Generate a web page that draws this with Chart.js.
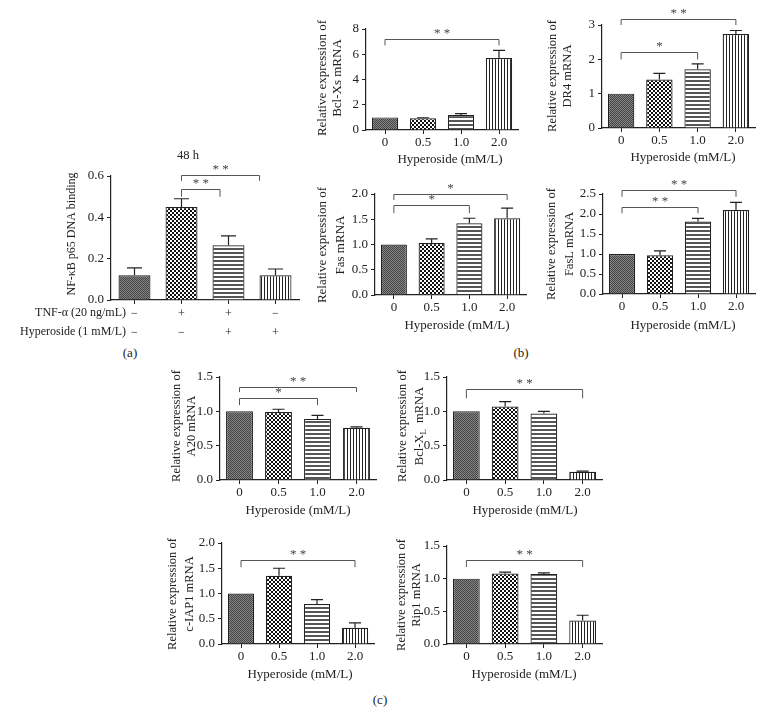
<!DOCTYPE html>
<html>
<head>
<meta charset="utf-8">
<script src="https://cdn.jsdelivr.net/npm/chart.js@4.4.0/dist/chart.umd.min.js"></script>
<style>
  body { margin: 0; background: #fff; width: 764px; height: 727px; position: relative; overflow: hidden; font-family: "Liberation Serif", "Times New Roman", serif; color: #222; }
  canvas { position: absolute; }
  .tag { position: absolute; font-size: 13px; color: #222; transform: translate(-50%, -50%); }
</style>
</head>
<body>
<div class="tag" style="left:130px;top:353px">(a)</div>
<div class="tag" style="left:521px;top:353px">(b)</div>
<div class="tag" style="left:380px;top:700px">(c)</div>
<script>
// categories
const doses = ["0", "0.5", "1.0", "2.0"];
const tnfRow = ["−", "+", "+", "−"];
const hypRow = ["−", "−", "+", "+"];

// (a) NF-kB p65 binding
const p65Mean = [0.12, 0.45, 0.265, 0.12];
const p65Sem = [0.035, 0.04, 0.045, 0.03];
const p65Sig = [[1, 1.82, 0.538, 0.5, "**"], [1, 2.66, 0.605, 0.577, "**"]];

// (b)
const bclxsMean = [1.0, 0.93, 1.18, 5.7];
const bclxsSem = [0, 0.04, 0.12, 0.6];
const bclxsSig = [[0, 3, 7.2, 6.7, "**"]];

const dr4Mean = [1.0, 1.41, 1.71, 2.74];
const dr4Sem = [0, 0.18, 0.16, 0.1];
const dr4Sig = [[0, 2, 2.22, 2.0, "*"], [0, 3, 3.18, 3.0, "**"]];

const fasMean = [1.0, 1.03, 1.42, 1.52];
const fasSem = [0, 0.08, 0.1, 0.2];
const fasSig = [[0, 2, 1.78, 1.62, "*"], [0, 3, 2.0, 1.88, "*"]];

const faslMean = [1.0, 0.97, 1.81, 2.1];
const faslSem = [0, 0.11, 0.08, 0.19];
const faslSig = [[0, 2, 2.18, 2.02, "**"], [0, 3, 2.6, 2.43, "**"]];

// (c)
const a20Mean = [1.0, 0.99, 0.89, 0.76];
const a20Sem = [0, 0.04, 0.05, 0.015];
const a20Sig = [[0, 2, 1.19, 1.09, "*"], [0, 3, 1.35, 1.28, "**"]];

const bclxlMean = [1.0, 1.07, 0.97, 0.12];
const bclxlSem = [0, 0.07, 0.03, 0.01];
const bclxlSig = [[0, 3, 1.32, 1.19, "**"]];

const ciap1Mean = [1.0, 1.35, 0.79, 0.32];
const ciap1Sem = [0, 0.15, 0.09, 0.1];
const ciap1Sig = [[0, 3, 1.66, 1.52, "**"]];

const rip1Mean = [1.0, 1.08, 1.07, 0.36];
const rip1Sem = [0, 0.02, 0.02, 0.08];
const rip1Sig = [[0, 3, 1.29, 1.18, "**"]];

const FONT = '"Liberation Serif", "Times New Roman", serif';
const INK = "#222";

// fill patterns for the 4 bars
function makePatterns(ctx) {
  const mk = (w, h, draw) => {
    const c = document.createElement("canvas");
    c.width = w; c.height = h;
    const g = c.getContext("2d");
    g.fillStyle = "#fff"; g.fillRect(0, 0, w, h);
    draw(g);
    return ctx.createPattern(c, "repeat");
  };
  return [
    mk(2, 2, g => { g.fillStyle = "#858585"; g.fillRect(0, 0, 2, 2); g.fillStyle = "#444"; g.fillRect(0, 0, 1, 1); g.fillRect(1, 1, 1, 1); }),
    mk(4, 4, g => { g.fillStyle = "#111"; g.fillRect(0, 0, 2, 2); g.fillRect(2, 2, 2, 2); }),
    mk(1, 4, g => { g.fillStyle = "#555"; g.fillRect(0, 0, 1, 2); }),
    mk(3, 1, g => { g.fillStyle = "#222"; g.fillRect(0, 0, 1, 1); })
  ];
}

function drawRich(ctx, segs, size) {
  // centred at 0,0 in current transform
  let total = 0;
  segs.forEach(s => {
    ctx.font = (s.sub ? size * 0.7 : size) + "px " + FONT;
    s.w = ctx.measureText(s.t).width;
    total += s.w;
  });
  let x = -total / 2;
  ctx.textAlign = "left";
  segs.forEach(s => {
    ctx.font = (s.sub ? size * 0.7 : size) + "px " + FONT;
    ctx.fillText(s.t, x, s.sub ? size * 0.3 : 0);
    x += s.w;
  });
}

const extras = {
  id: "extras",
  afterDraw(chart, args, o) {
    const { ctx, scales: { x, y } } = chart;
    const ox = o.ox, oy = o.oy;
    ctx.save();
    // error bars (upper only)
    const meta = chart.getDatasetMeta(0);
    ctx.strokeStyle = INK;
    ctx.lineWidth = 1.2;
    meta.data.forEach((bar, i) => {
      const e = o.errs[i];
      if (!e) return;
      const v = chart.data.datasets[0].data[i];
      const top = y.getPixelForValue(v + e);
      ctx.beginPath();
      ctx.moveTo(bar.x, bar.y);
      ctx.lineTo(bar.x, top);
      ctx.moveTo(bar.x - o.cap / 2, top);
      ctx.lineTo(bar.x + o.cap / 2, top);
      ctx.stroke();
    });
    // significance brackets
    ctx.strokeStyle = "#555";
    ctx.fillStyle = "#444";
    ctx.lineWidth = 1;
    ctx.textAlign = "center";
    ctx.textBaseline = "middle";
    o.sig.forEach(([a, b, yv, leg, txt]) => {
      const x1 = x.getPixelForValue(a), x2 = x.getPixelForValue(b);
      const yl = Math.round(y.getPixelForValue(yv)) + 0.5, yg = y.getPixelForValue(leg);
      ctx.beginPath();
      ctx.moveTo(x1, yg); ctx.lineTo(x1, yl); ctx.lineTo(x2, yl); ctx.lineTo(x2, yg);
      ctx.stroke();
      ctx.font = "13px " + FONT;
      ctx.fillText(txt.split("").join(" "), (x1 + x2) / 2, yl - 6);
    });
    // axis titles and extra text
    ctx.fillStyle = INK;
    (o.ytitle || []).forEach(l => {
      ctx.save();
      ctx.translate(l.x - ox, l.y - oy);
      ctx.rotate(-Math.PI / 2);
      ctx.textBaseline = "middle";
      drawRich(ctx, l.segs, l.size);
      ctx.restore();
    });
    (o.texts || []).forEach(t => {
      ctx.font = t.size + "px " + FONT;
      ctx.textAlign = t.align || "center";
      ctx.textBaseline = "middle";
      ctx.fillText(t.t, t.x - ox, t.y - oy);
    });
    ctx.restore();
  }
};

function panel(p) {
  const L = p.l - p.canvasLeft, T = Math.min(40, p.t), R = 6, B = p.B || 45;
  const w = p.r - p.l + L + R, h = p.b - p.t + T + B;
  const cv = document.createElement("canvas");
  cv.width = w; cv.height = h;
  cv.style.left = (p.l - L) + "px";
  cv.style.top = (p.t - T) + "px";
  document.body.appendChild(cv);
  const fills = makePatterns(cv.getContext("2d"));
  const tickFont = { family: FONT, size: p.tickSize || 13 };
  new Chart(cv, {
    type: "bar",
    data: {
      labels: p.labels,
      datasets: [{
        data: p.mean,
        backgroundColor: fills,
        borderColor: INK,
        borderWidth: 1.2,
        barPercentage: p.barPct || 0.69,
        categoryPercentage: 1
      }]
    },
    options: {
      responsive: false,
      animation: false,
      layout: { padding: { left: 0, top: T, right: R, bottom: 0 } },
      plugins: {
        legend: { display: false },
        tooltip: { enabled: false },
        extras: {
          ox: p.l - L, oy: p.t - T,
          errs: p.sem, sig: p.sig, cap: p.cap || 12,
          ytitle: p.ytitle, texts: p.texts
        }
      },
      scales: {
        x: {
          grid: { display: true, drawOnChartArea: false, drawTicks: true, tickLength: 4, color: INK, offset: false },
          border: { color: INK, width: 1.2 },
          ticks: { color: INK, font: p.xFont || tickFont, padding: p.xPad == null ? 1 : p.xPad, maxRotation: 0, autoSkip: false },
          afterFit: s => { s.height = B; }
        },
        y: {
          min: 0, max: p.yMax,
          grid: { display: true, drawOnChartArea: false, drawTicks: true, tickLength: 4, color: INK },
          border: { color: INK, width: 1.2 },
          ticks: { stepSize: p.step, color: INK, font: tickFont, padding: 3, callback: v => v.toFixed(p.dec) },
          afterFit: s => { s.width = L; }
        }
      }
    },
    plugins: [extras]
  });
}

function yt(x1, x2, cy, size, gene) {
  return [
    { x: x1, y: cy, size: size, segs: [{ t: "Relative expression of" }] },
    { x: x2, y: cy, size: size, segs: gene }
  ];
}
const hyper = (cx, cy) => ({ t: "Hyperoside (mM/L)", x: cx, y: cy, size: 13 });

// (a)
panel({
  l: 111, r: 299, t: 176, b: 300, canvasLeft: 0, B: 45,
  labels: tnfRow.map((t, i) => [t, hypRow[i]]),
  mean: p65Mean, sem: p65Sem, sig: p65Sig,
  yMax: 0.6, step: 0.2, dec: 1, barPct: 0.68, cap: 15,
  xFont: { family: FONT, size: 12, lineHeight: 19 / 12 }, xPad: 0,
  ytitle: [{ x: 72, y: 234, size: 12, segs: [{ t: "NF-κB p65 DNA binding" }] }],
  texts: [
    { t: "48 h", x: 188, y: 156, size: 12.5 },
    { t: "TNF-α (20 ng/mL)", x: 126, y: 313, size: 12, align: "right" },
    { t: "Hyperoside (1 mM/L)", x: 126, y: 332, size: 12, align: "right" }
  ]
});

// (b)
panel({
  l: 366, r: 518, t: 29, b: 130, canvasLeft: 312,
  labels: doses, mean: bclxsMean, sem: bclxsSem, sig: bclxsSig,
  yMax: 8, step: 2, dec: 0,
  ytitle: yt(323, 338, 78, 13, [{ t: "Bcl-Xs mRNA" }]),
  texts: [hyper(450, 160)]
});
panel({
  l: 602, r: 755, t: 25, b: 128, canvasLeft: 543,
  labels: doses, mean: dr4Mean, sem: dr4Sem, sig: dr4Sig,
  yMax: 3, step: 1, dec: 0,
  ytitle: yt(553, 568, 76, 12.5, [{ t: "DR4 mRNA" }]),
  texts: [hyper(683, 158)]
});
panel({
  l: 375, r: 526, t: 194, b: 295, canvasLeft: 312,
  labels: doses, mean: fasMean, sem: fasSem, sig: fasSig,
  yMax: 2, step: 0.5, dec: 1,
  ytitle: yt(323, 341, 245, 13, [{ t: "Fas mRNA" }]),
  texts: [hyper(457, 326)]
});
panel({
  l: 603, r: 755, t: 194, b: 294, canvasLeft: 542,
  labels: doses, mean: faslMean, sem: faslSem, sig: faslSig,
  yMax: 2.5, step: 0.5, dec: 1,
  ytitle: yt(552, 570, 244, 12.5, [{ t: "FasL mRNA" }]),
  texts: [hyper(683, 326)]
});

// (c)
panel({
  l: 220, r: 376, t: 377, b: 480, canvasLeft: 167,
  labels: doses, mean: a20Mean, sem: a20Sem, sig: a20Sig,
  yMax: 1.5, step: 0.5, dec: 1,
  ytitle: yt(177, 192, 426, 12.5, [{ t: "A20 mRNA" }]),
  texts: [hyper(298, 511)]
});
panel({
  l: 447, r: 602, t: 377, b: 480, canvasLeft: 393,
  labels: doses, mean: bclxlMean, sem: bclxlSem, sig: bclxlSig,
  yMax: 1.5, step: 0.5, dec: 1,
  ytitle: yt(403, 420, 426, 12.5, [{ t: "Bcl-X" }, { t: "L", sub: true }, { t: "  mRNA" }]),
  texts: [hyper(525, 511)]
});
panel({
  l: 222, r: 374, t: 543, b: 644, canvasLeft: 163,
  labels: doses, mean: ciap1Mean, sem: ciap1Sem, sig: ciap1Sig,
  yMax: 2, step: 0.5, dec: 1,
  ytitle: yt(173, 190, 594, 12.5, [{ t: "c-IAP1 mRNA" }]),
  texts: [hyper(300, 675)]
});
panel({
  l: 447, r: 602, t: 546, b: 644, canvasLeft: 392,
  labels: doses, mean: rip1Mean, sem: rip1Sem, sig: rip1Sig,
  yMax: 1.5, step: 0.5, dec: 1,
  ytitle: yt(402, 417, 595, 12.5, [{ t: "Rip1 mRNA" }]),
  texts: [hyper(524, 675)]
});
</script>
</body>
</html>
